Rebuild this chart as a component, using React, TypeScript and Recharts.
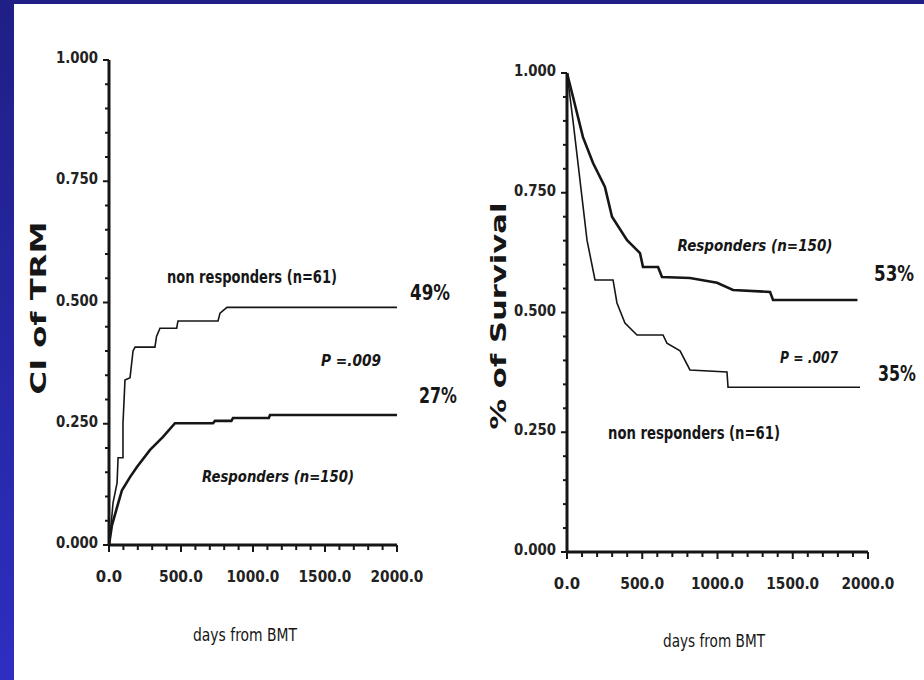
import { LineChart, Line, XAxis, YAxis } from 'recharts';

// tick positions shared by both panels
const dayTicks = [0, 100, 200, 300, 400, 500, 600, 700, 800, 900, 1000, 1100, 1200, 1300, 1400, 1500, 1600, 1700, 1800, 1900, 2000];
const probTicks = [0, 0.05, 0.1, 0.15, 0.2, 0.25, 0.3, 0.35, 0.4, 0.45, 0.5, 0.55, 0.6, 0.65, 0.7, 0.75, 0.8, 0.85, 0.9, 0.95, 1];

// left panel: cumulative incidence of TRM
const trmNonDays = [0, 7, 28, 56, 63, 97, 97, 111, 146, 167, 181, 319, 330, 354, 470, 479, 757, 771, 819, 2000];
const trmNonCI = [0, 0.016, 0.087, 0.128, 0.18, 0.18, 0.25, 0.34, 0.345, 0.4, 0.408, 0.408, 0.43, 0.447, 0.447, 0.462, 0.462, 0.478, 0.49, 0.49];
const trmRespDays = [0, 20, 56, 90, 146, 194, 285, 375, 458, 722, 736, 850, 861, 1110, 1118, 2000];
const trmRespCI = [0, 0.04, 0.078, 0.113, 0.14, 0.161, 0.196, 0.223, 0.251, 0.251, 0.256, 0.256, 0.262, 0.262, 0.268, 0.268];

// right panel: overall survival
const osRespDays = [0, 40, 106, 173, 252, 299, 399, 485, 505, 605, 631, 817, 997, 1103, 1349, 1369, 1930];
const osRespSurv = [1, 0.95, 0.866, 0.812, 0.762, 0.7, 0.651, 0.624, 0.595, 0.595, 0.574, 0.572, 0.562, 0.547, 0.543, 0.526, 0.526];
const osNonDays = [0, 40, 86, 133, 186, 306, 332, 385, 465, 638, 664, 751, 817, 1063, 1070, 1947];
const osNonSurv = [1, 0.9, 0.777, 0.651, 0.568, 0.568, 0.52, 0.478, 0.453, 0.453, 0.436, 0.42, 0.38, 0.376, 0.344, 0.344];

const zip = (days: number[], vals: number[]) => days.map((d, i) => ({ day: d, value: vals[i] }));

const INK = '#161616';
const NARROW = "'Liberation Sans Narrow', 'DejaVu Sans Condensed', 'Liberation Sans', sans-serif";

const YTick = ({ x, y, payload }: any) => {
  const v = payload.value as number;
  const major = Math.abs(v * 4 - Math.round(v * 4)) < 1e-6;
  return (
    <g>
      <line x1={x} x2={x - (major ? 6 : 4)} y1={y} y2={y} stroke={INK} strokeWidth={2} />
      {major && (
        <text
          x={x - 11}
          y={y - 2}
          textAnchor="end"
          dominantBaseline="central"
          fontFamily={NARROW}
          fontWeight="bold"
          fontSize={15}
          fill="#222"
          textLength={42}
          lengthAdjust="spacingAndGlyphs"
        >
          {v.toFixed(3)}
        </text>
      )}
    </g>
  );
};

const XTick = ({ x, y, payload }: any) => {
  const v = payload.value as number;
  const major = v % 500 === 0;
  const label = v.toFixed(1);
  return (
    <g>
      <line x1={x} x2={x} y1={y} y2={y + (major ? 7 : 5)} stroke={INK} strokeWidth={2} />
      {major && (
        <text
          x={x}
          y={y + 32}
          textAnchor="middle"
          dominantBaseline="central"
          fontFamily={NARROW}
          fontWeight="bold"
          fontSize={15}
          fill="#222"
          textLength={label.length * 8.8}
          lengthAdjust="spacingAndGlyphs"
        >
          {label}
        </text>
      )}
    </g>
  );
};

const Note = ({ x, y, w, size = 18, weight = 'bold', italic = false, rotate = false, children }: any) => (
  <text
    x={x}
    y={y}
    textAnchor="middle"
    dominantBaseline="central"
    fontFamily={NARROW}
    fontSize={size}
    fontWeight={weight}
    fontStyle={italic ? 'italic' : 'normal'}
    fill={INK}
    textLength={w}
    lengthAdjust="spacingAndGlyphs"
    transform={rotate ? `rotate(-90 ${x} ${y})` : undefined}
  >
    {children}
  </text>
);

function Panel({ width, height, margin, series }: any) {
  return (
    <LineChart width={width} height={height} margin={margin}>
      <XAxis
        type="number"
        dataKey="day"
        domain={[0, 2000]}
        ticks={dayTicks}
        interval={0}
        tickSize={0}
        tickMargin={0}
        height={30}
        axisLine={{ stroke: INK, strokeWidth: 3 }}
        tick={<XTick />}
        allowDataOverflow
      />
      <YAxis
        type="number"
        domain={[0, 1]}
        ticks={probTicks}
        interval={0}
        tickSize={0}
        tickMargin={0}
        width={50}
        axisLine={{ stroke: INK, strokeWidth: 3 }}
        tick={<YTick />}
      />
      {series.map((s: any) => (
        <Line
          key={s.name}
          data={s.data}
          dataKey="value"
          type="linear"
          stroke={INK}
          strokeWidth={s.thick ? 2.6 : 1.6}
          dot={false}
          isAnimationActive={false}
        />
      ))}
    </LineChart>
  );
}

export default function App() {
  const leftSeries = [
    { name: 'non', data: zip(trmNonDays, trmNonCI), thick: false },
    { name: 'resp', data: zip(trmRespDays, trmRespCI), thick: true },
  ];
  const rightSeries = [
    { name: 'resp', data: zip(osRespDays, osRespSurv), thick: true },
    { name: 'non', data: zip(osNonDays, osNonSurv), thick: false },
  ];

  return (
    <div style={{ position: 'absolute', left: 0, top: 0, width: 924, height: 680, background: '#fff', overflow: 'hidden' }}>
      {/* slide frame */}
      <div style={{ position: 'absolute', left: 0, top: 0, width: 924, height: 4, background: '#1f1f86' }} />
      <div
        style={{
          position: 'absolute',
          left: 0,
          top: 0,
          width: 14,
          height: 680,
          background: 'linear-gradient(#1f1f86, #2e2ec2)',
        }}
      />

      <div style={{ position: 'absolute', left: 0, top: 0 }}>
        <Panel width={460} height={680} margin={{ top: 60, right: 63, bottom: 105, left: 59 }} series={leftSeries} />
      </div>
      <div style={{ position: 'absolute', left: 460, top: 0 }}>
        <Panel width={464} height={680} margin={{ top: 73, right: 56, bottom: 98, left: 57 }} series={rightSeries} />
      </div>

      <svg width={924} height={680} style={{ position: 'absolute', left: 0, top: 0, pointerEvents: 'none' }}>
        {/* left panel texts */}
        <Note x={38} y={308} w={173} size={22} weight="bold" rotate>
          CI of TRM
        </Note>
        <Note x={252} y={276} w={170} size={18}>
          non responders (n=61)
        </Note>
        <Note x={430} y={292} w={40} size={22}>
          49%
        </Note>
        <Note x={351} y={360} w={60} size={16} italic>
          P =.009
        </Note>
        <Note x={438} y={395} w={38} size={22}>
          27%
        </Note>
        <Note x={278} y={476} w={152} size={16} italic>
          Responders (n=150)
        </Note>
        <Note x={245} y={635} w={104} size={17} weight="normal">
          days from BMT
        </Note>

        {/* right panel texts */}
        <Note x={498} y={316} w={227} size={22} weight="bold" rotate>
          % of Survival
        </Note>
        <Note x={755} y={245} w={155} size={16} italic>
          Responders (n=150)
        </Note>
        <Note x={894} y={273} w={40} size={22}>
          53%
        </Note>
        <Note x={809} y={357} w={58} size={16} italic>
          P = .007
        </Note>
        <Note x={897} y={373} w={38} size={22}>
          35%
        </Note>
        <Note x={694} y={432} w={172} size={18}>
          non responders (n=61)
        </Note>
        <Note x={714} y={641} w={102} size={17} weight="normal">
          days from BMT
        </Note>
      </svg>
    </div>
  );
}
